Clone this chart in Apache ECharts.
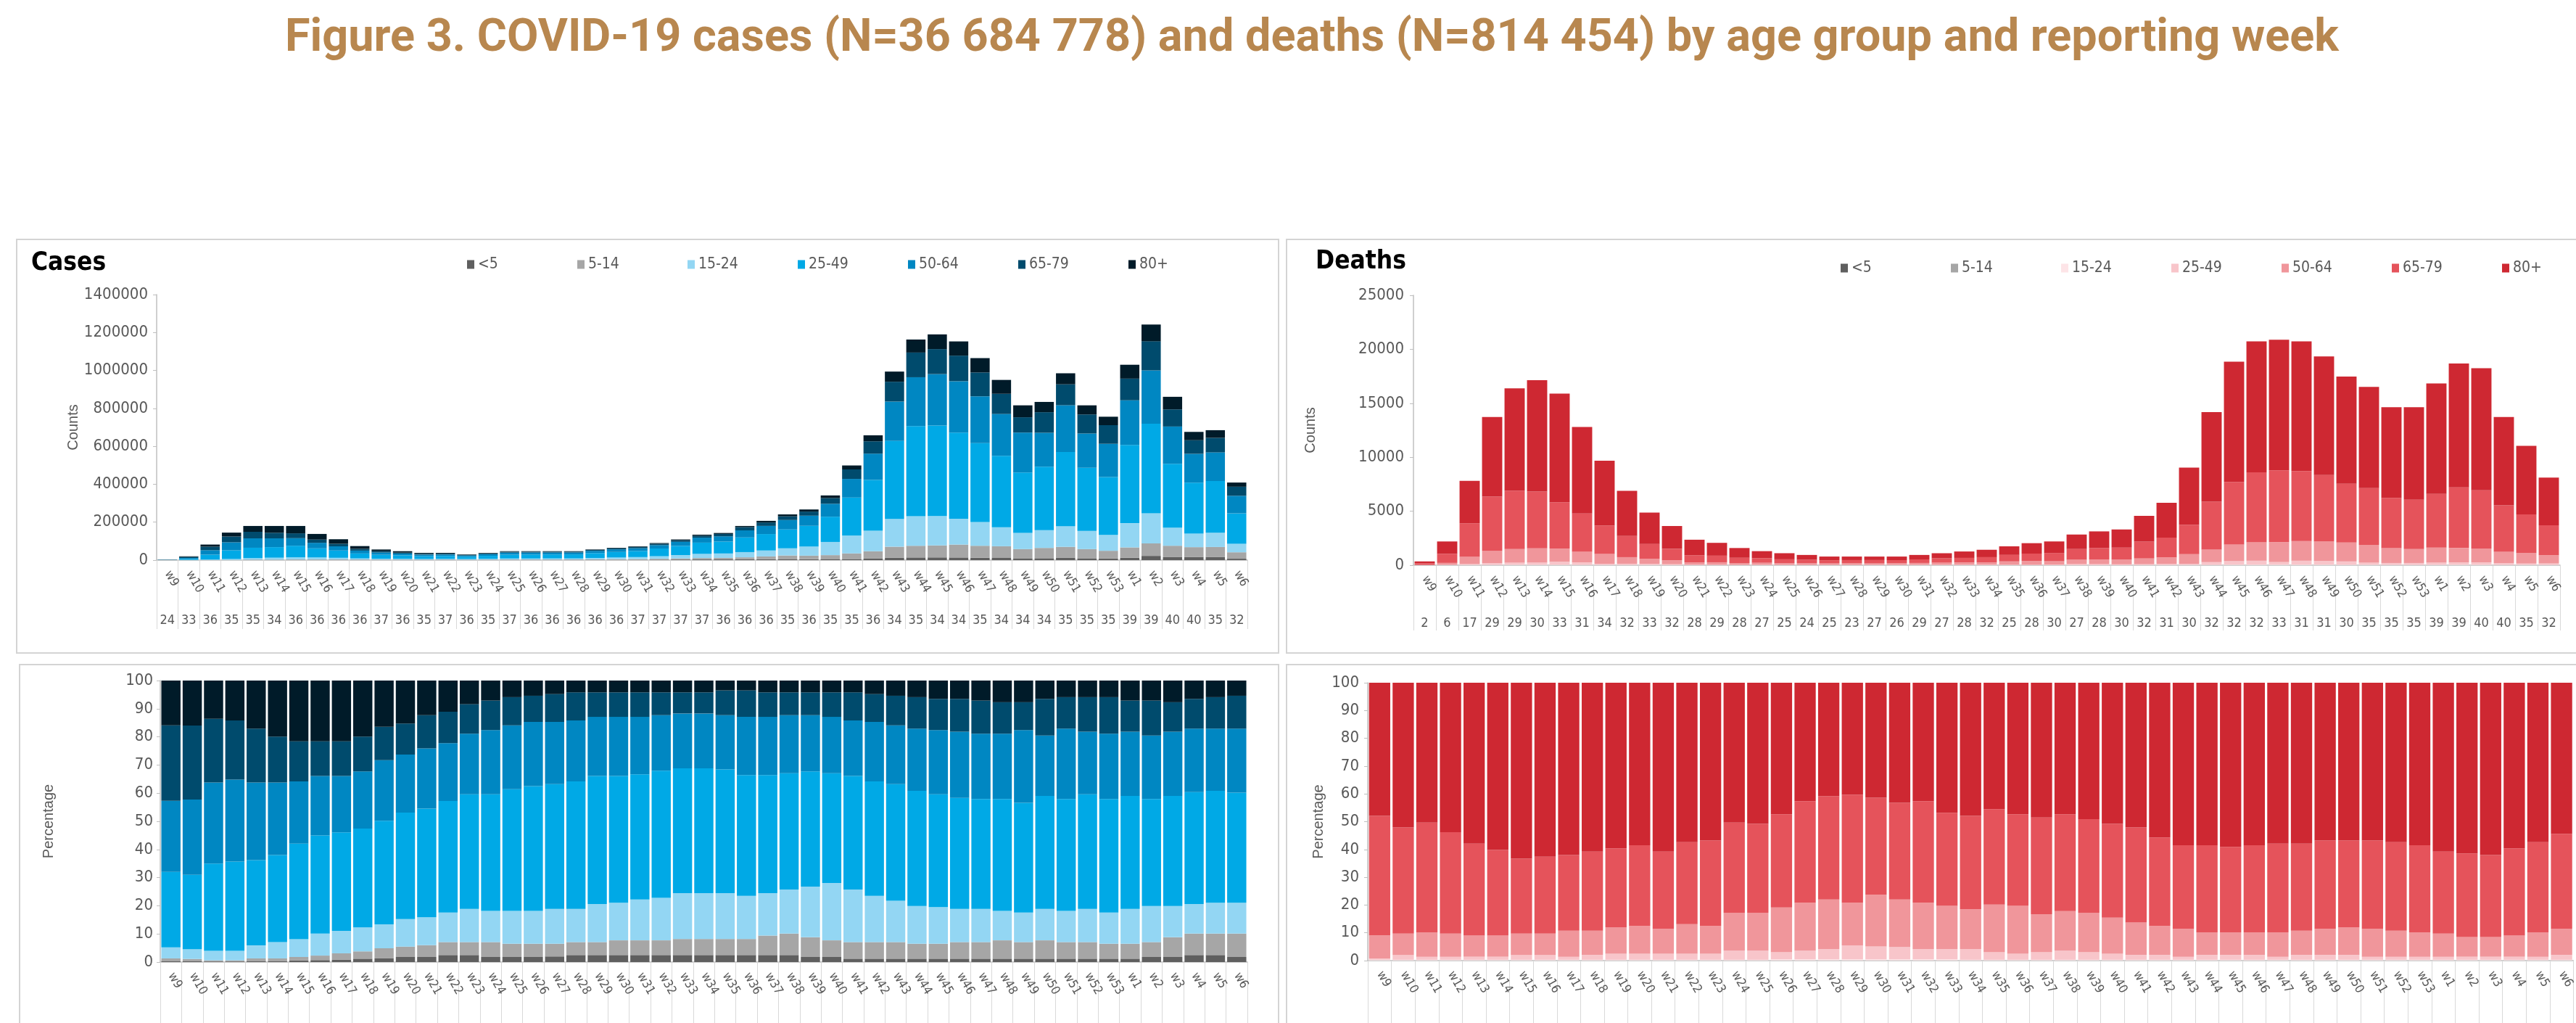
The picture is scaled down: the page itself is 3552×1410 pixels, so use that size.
<!DOCTYPE html>
<html>
<head>
<meta charset="utf-8">
<title>Figure 3</title>
<script src="https://cdn.jsdelivr.net/npm/echarts@6.0.0/dist/echarts.min.js"></script>
<style>
html, body { margin: 0; padding: 0; background: #fff; }
#chart { width: 3552px; height: 1410px; }
</style>
</head>
<body>
<div id="chart"></div>
<script>
var weeks = ['w9','w10','w11','w12','w13','w14','w15','w16','w17','w18','w19','w20','w21','w22','w23','w24','w25','w26','w27','w28','w29','w30','w31','w32','w33','w34','w35','w36','w37','w38','w39','w40','w41','w42','w43','w44','w45','w46','w47','w48','w49','w50','w51','w52','w53','w1','w2','w3','w4','w5','w6']
var ageGroups = ['<5', '5-14', '15-24', '25-49', '50-64', '65-79', '80+']

// number of reporting countries, printed under each week
var casesCountries = [24,33,36,35,35,34,36,36,36,36,37,36,35,37,36,35,37,36,36,36,36,36,37,37,37,37,36,36,36,35,36,35,35,36,34,35,34,34,35,34,34,34,35,35,35,39,39,40,40,35,32]
var deathsCountries = [2,6,17,29,29,30,33,31,34,32,33,32,28,29,28,27,25,24,25,23,27,26,29,27,28,32,25,28,30,27,28,30,32,31,30,32,32,32,33,31,31,30,35,35,35,39,39,40,40,35,32]

// weekly totals (all ages)
var casesTotal = [2500,20000,82000,145000,180000,180000,180000,138000,110000,74000,56000,47000,38000,38000,30000,38000,47000,47000,47000,47000,56000,65000,72000,90000,109000,134000,143000,180000,207000,241000,267000,341000,499000,658000,994000,1163000,1190000,1153000,1065000,950000,816000,834000,985000,816000,756000,1030000,1242000,861000,676000,685000,409000]
var deathsTotal = [350,2200,7820,13730,16380,17130,15900,12800,9680,6890,4880,3630,2360,2070,1590,1300,1110,950,800,800,800,800,950,1110,1270,1430,1750,2040,2200,2840,3130,3310,4560,5780,9040,14180,18850,20730,20890,20730,19330,17470,16520,14630,14630,16830,18690,18240,13730,11050,8110]

// cases: cumulative percentage at the top of each age band
var casesTopU5 = [0.4,0.4,0.2,0.2,0.4,0.4,0.6,0.7,0.8,1.2,1.3,1.8,1.8,2.5,2.5,1.8,1.8,1.8,2.0,2.5,2.5,2.5,2.5,2.5,2.5,2.5,2.5,2.5,2.5,2.5,1.8,1.8,1.2,1.2,1.2,1.2,1.2,1.2,1.2,1.2,1.2,1.2,1.2,1.2,1.2,1.2,1.8,1.8,2.5,2.5,1.8]
var casesTop5_14 = [1.3,1.1,0.6,0.6,1.3,1.3,1.8,2.3,3.1,3.8,4.9,5.5,6.0,7.1,7.1,7.1,6.5,6.5,6.5,7.1,7.1,7.7,7.7,7.7,8.2,8.2,8.2,8.2,9.4,10.1,8.8,7.7,7.1,7.1,7.1,6.5,6.5,7.1,7.1,7.7,7.1,7.7,7.1,7.1,6.5,6.5,7.1,8.8,10.1,10.1,10.1]
var casesTop15_24 = [5.2,4.6,4.0,4.0,5.9,7.1,8.1,10.1,11.1,12.3,13.4,15.3,15.9,17.6,18.9,18.2,18.2,18.2,18.9,18.9,20.6,21.1,22.2,22.8,24.5,24.5,24.5,23.5,24.5,25.8,26.8,28.1,25.8,23.5,21.8,19.9,19.5,18.9,18.9,18.2,17.6,18.9,18.2,18.9,17.6,18.9,19.9,19.9,20.6,21.1,21.1]
var casesTop25_49 = [32.0,31.0,35.0,35.7,36.2,38.0,42.1,45.0,46.1,47.4,50.2,53.1,54.5,57.2,59.6,59.6,61.4,62.5,63.2,64.2,66.1,66.1,66.7,68.0,68.8,68.8,68.4,66.4,66.4,67.1,67.7,67.1,66.1,64.2,63.2,60.8,59.6,58.3,57.9,57.9,56.6,59.0,57.9,59.6,57.9,59.0,57.9,59.0,60.4,60.8,60.2]
var casesTop50_64 = [57.3,57.7,63.8,64.8,63.8,63.8,64.2,66.1,66.1,67.7,71.7,73.7,75.9,77.8,81.1,82.4,84.1,85.3,85.3,85.8,87.1,87.1,87.1,87.7,88.3,88.3,87.7,87.1,87.1,87.7,87.7,87.1,85.8,85.3,84.1,82.9,82.4,81.8,81.1,81.1,82.4,80.5,82.9,81.8,81.1,81.8,80.5,81.8,82.9,82.9,82.9]
var casesTop65_79 = [84.1,84.0,86.4,85.8,82.9,80.1,78.4,78.4,78.4,80.1,83.6,84.7,87.7,88.9,91.6,92.9,94.1,94.6,95.2,95.8,95.8,95.8,95.8,95.8,95.8,95.8,96.5,96.5,95.8,95.8,95.8,95.8,95.8,95.2,94.6,94.1,93.5,93.5,92.9,92.3,92.3,93.5,94.1,94.1,94.1,92.9,92.9,92.3,93.5,94.1,94.6]

// deaths: same idea
var deathsTopU5 = [0.02,0.02,0.02,0.02,0.02,0.02,0.02,0.02,0.02,0.02,0.02,0.02,0.02,0.02,0.02,0.02,0.02,0.02,0.02,0.02,0.02,0.02,0.02,0.02,0.02,0.02,0.02,0.02,0.02,0.02,0.02,0.02,0.02,0.02,0.02,0.02,0.02,0.02,0.02,0.02,0.02,0.02,0.02,0.02,0.02,0.02,0.02,0.02,0.02,0.02,0.02]
var deathsTop5_14 = [0.06,0.06,0.06,0.06,0.06,0.06,0.06,0.06,0.06,0.06,0.06,0.06,0.06,0.06,0.06,0.06,0.06,0.06,0.06,0.06,0.06,0.06,0.06,0.06,0.06,0.06,0.06,0.06,0.06,0.06,0.06,0.06,0.06,0.06,0.06,0.06,0.06,0.06,0.06,0.06,0.06,0.06,0.06,0.06,0.06,0.06,0.06,0.06,0.06,0.06,0.06]
var deathsTop15_24 = [0.3,0.3,0.3,0.3,0.3,0.3,0.3,0.3,0.3,0.3,0.3,0.3,0.3,0.3,0.3,0.3,0.3,0.5,0.5,0.5,0.5,0.5,0.5,0.5,0.5,0.3,0.3,0.3,0.3,0.3,0.3,0.3,0.3,0.3,0.3,0.3,0.3,0.3,0.3,0.3,0.3,0.3,0.3,0.3,0.3,0.3,0.3,0.3,0.3,0.3,0.3]
var deathsTop25_49 = [0.7,2.0,1.4,1.4,1.4,1.4,2.0,2.0,1.4,2.0,2.5,2.5,2.5,2.5,2.5,3.6,3.6,3.1,3.6,4.2,5.5,5.1,4.9,4.2,4.2,4.2,3.1,2.5,3.1,3.6,3.1,2.5,2.0,2.0,1.4,2.0,2.0,2.0,1.4,2.0,2.0,2.0,1.4,1.4,1.4,1.4,1.4,1.4,1.4,1.4,2.0]
var deathsTop50_64 = [9.1,9.7,10.2,9.7,9.1,9.1,9.7,9.7,10.8,10.8,12.0,12.5,11.4,13.1,12.5,17.2,17.2,19.1,20.8,22.0,20.8,23.7,22.0,20.8,19.7,18.5,20.2,19.7,16.7,17.8,17.2,15.5,13.7,12.5,11.4,10.2,10.2,10.2,10.2,10.8,11.4,12.0,11.4,10.8,10.2,9.7,8.5,8.5,9.1,10.2,11.4]
var deathsTop65_79 = [52.1,47.9,49.7,46.2,42.1,39.8,36.7,37.4,38.0,39.2,40.4,41.5,39.2,42.6,43.2,49.7,49.2,52.7,57.4,59.2,59.7,58.6,56.8,57.4,53.2,52.1,54.5,52.7,51.5,52.7,50.9,49.2,47.9,44.3,41.5,41.5,40.9,41.5,42.1,42.1,43.2,43.2,43.2,42.6,41.5,39.2,38.6,38.0,40.4,42.6,45.6]

var casesColors = ['#5f5f5f', '#a6a6a6', '#93d6f3', '#00a9e6', '#0087c2', '#004b6d', '#001b29']
var deathsColors = ['#5f5f5f', '#a6a6a6', '#fde4e7', '#f8c5ca', '#f0969b', '#e5535b', '#ce2832']

var NARROW = "'Liberation Sans Narrow', 'DejaVu Sans Condensed', 'Liberation Sans', sans-serif"
var SANS = "'Liberation Sans', Arial, sans-serif"
var GREY = '#595959'

// turn the cumulative tops into the share of each band (last band runs to 100)
function bandShares(tops) {
    var out = []
    for (var k = 0; k <= tops.length; k++) out.push([])
    for (var i = 0; i < weeks.length; i++) {
        var prev = 0
        for (k = 0; k < tops.length; k++) {
            out[k].push(+(tops[k][i] - prev).toFixed(2))
            prev = tops[k][i]
        }
        out[tops.length].push(+(100 - prev).toFixed(2))
    }
    return out
}

function bandCounts(shares, totals) {
    return shares.map(function (band) {
        return band.map(function (s, i) { return Math.round(totals[i] * s / 100) })
    })
}

var casesShares = bandShares([casesTopU5, casesTop5_14, casesTop15_24, casesTop25_49, casesTop50_64, casesTop65_79])
var deathsShares = bandShares([deathsTopU5, deathsTop5_14, deathsTop15_24, deathsTop25_49, deathsTop50_64, deathsTop65_79])
var casesCounts = bandCounts(casesShares, casesTotal)
var deathsCounts = bandCounts(deathsShares, deathsTotal)

var panels = [
    { key: 'c', grid: { left: 216, top: 406, width: 1504, height: 366 }, max: 1400000, interval: 200000,
      name: 'Counts', nameGap: 100, labelMargin: 12, tickLen: 95, row: casesCountries, rowOffset: 74,
      bands: casesCounts, colors: casesColors },
    { key: 'd', grid: { left: 1949, top: 407, width: 1581, height: 372 }, max: 25000, interval: 5000,
      name: 'Counts', nameGap: 132, labelMargin: 13, tickLen: 90, row: deathsCountries, rowOffset: 71,
      bands: deathsCounts, colors: deathsColors },
    { key: 'cp', grid: { left: 221, top: 938, width: 1499, height: 388 }, max: 100, interval: 10,
      name: 'Percentage', nameGap: 144, labelMargin: 10, tickLen: 120,
      bands: casesShares, colors: casesColors },
    { key: 'dp', grid: { left: 1886, top: 941, width: 1668, height: 383 }, max: 100, interval: 10,
      name: 'Percentage', nameGap: 58, labelMargin: 12, tickLen: 120,
      bands: deathsShares, colors: deathsColors }
]

var grids = [], xAxes = [], yAxes = [], series = []

panels.forEach(function (p, i) {
    grids.push(p.grid)
    var mainX = xAxes.length
    xAxes.push({
        type: 'category', gridIndex: i, data: weeks,
        axisLine: { lineStyle: { color: '#bfbfbf', width: 1.5 } },
        axisTick: { show: true, interval: 0, length: p.tickLen, lineStyle: { color: '#d9d9d9' } },
        axisLabel: { interval: 0, rotate: -60, margin: 16, fontSize: 17, color: GREY, fontFamily: NARROW }
    })
    if (p.row) {
        xAxes.push({
            type: 'category', gridIndex: i, data: weeks, position: 'bottom', offset: p.rowOffset,
            axisLine: { show: false }, axisTick: { show: false },
            axisLabel: {
                interval: 0, margin: 0, fontSize: 18, color: GREY, fontFamily: NARROW,
                formatter: function (v, idx) { return String(p.row[idx]) }
            }
        })
    }
    yAxes.push({
        type: 'value', gridIndex: i, min: 0, max: p.max, interval: p.interval,
        name: p.name, nameLocation: 'middle', nameGap: p.nameGap,
        nameTextStyle: { fontSize: 20, color: GREY, fontFamily: SANS },
        axisLine: { show: true, lineStyle: { color: '#bfbfbf', width: 1.5 } },
        axisTick: { show: true, length: 5, lineStyle: { color: '#bfbfbf' } },
        splitLine: { show: false },
        axisLabel: {
            margin: p.labelMargin, fontSize: 22, color: GREY, fontFamily: NARROW,
            formatter: function (v) { return String(v) }
        }
    })
    ageGroups.forEach(function (g, k) {
        series.push({
            type: 'bar', name: p.key + ':' + g, stack: p.key,
            xAxisIndex: mainX, yAxisIndex: i,
            barCategoryGap: '10%',
            itemStyle: { color: p.colors[k] },
            data: p.bands[k]
        })
    })
})

// one legend per entry so every slot has the same width, like the spreadsheet legend
var LEGEND_STEP = 152
var legends = []
function addLegend(prefix, left, top) {
    ageGroups.forEach(function (g, k) {
        legends.push({
            data: [prefix + ':' + g],
            left: left + k * LEGEND_STEP, top: top,
            icon: 'rect', itemWidth: 10, itemHeight: 12,
            selectedMode: false,
            formatter: function (n) { return n.slice(prefix.length + 1) },
            textStyle: { fontSize: 21, color: GREY, fontFamily: NARROW }
        })
    })
}
addLegend('c', 639, 349)
addLegend('d', 2533, 354)

var boxStyle = { fill: 'none', stroke: '#d4d4d4', lineWidth: 2 }

var option = {
    animation: false,
    backgroundColor: '#fff',
    title: [
        { text: 'Figure 3. COVID-19 cases (N=36 684 778) and deaths (N=814 454) by age group and reporting week',
          left: 388, top: 18,
          textStyle: { fontFamily: 'Roboto', fontWeight: 'bold', fontSize: 63, color: '#b8874f' } },
        { text: 'Cases', left: 38, top: 340, textStyle: { fontFamily: NARROW, fontWeight: 'bold', fontSize: 35, color: '#000' } },
        { text: 'Deaths', left: 1809, top: 338, textStyle: { fontFamily: NARROW, fontWeight: 'bold', fontSize: 35, color: '#000' } }
    ],
    legend: legends,
    graphic: [
        { type: 'rect', z: -10, shape: { x: 23, y: 330, width: 1740, height: 570 }, style: boxStyle },
        { type: 'rect', z: -10, shape: { x: 1774, y: 330, width: 1800, height: 570 }, style: boxStyle },
        { type: 'rect', z: -10, shape: { x: 27, y: 916, width: 1736, height: 520 }, style: boxStyle },
        { type: 'rect', z: -10, shape: { x: 1774, y: 916, width: 1800, height: 520 }, style: boxStyle }
    ],
    grid: grids,
    xAxis: xAxes,
    yAxis: yAxes,
    series: series
}

var chart = echarts.init(document.getElementById('chart'))
chart.setOption(option)
</script>
</body>
</html>
